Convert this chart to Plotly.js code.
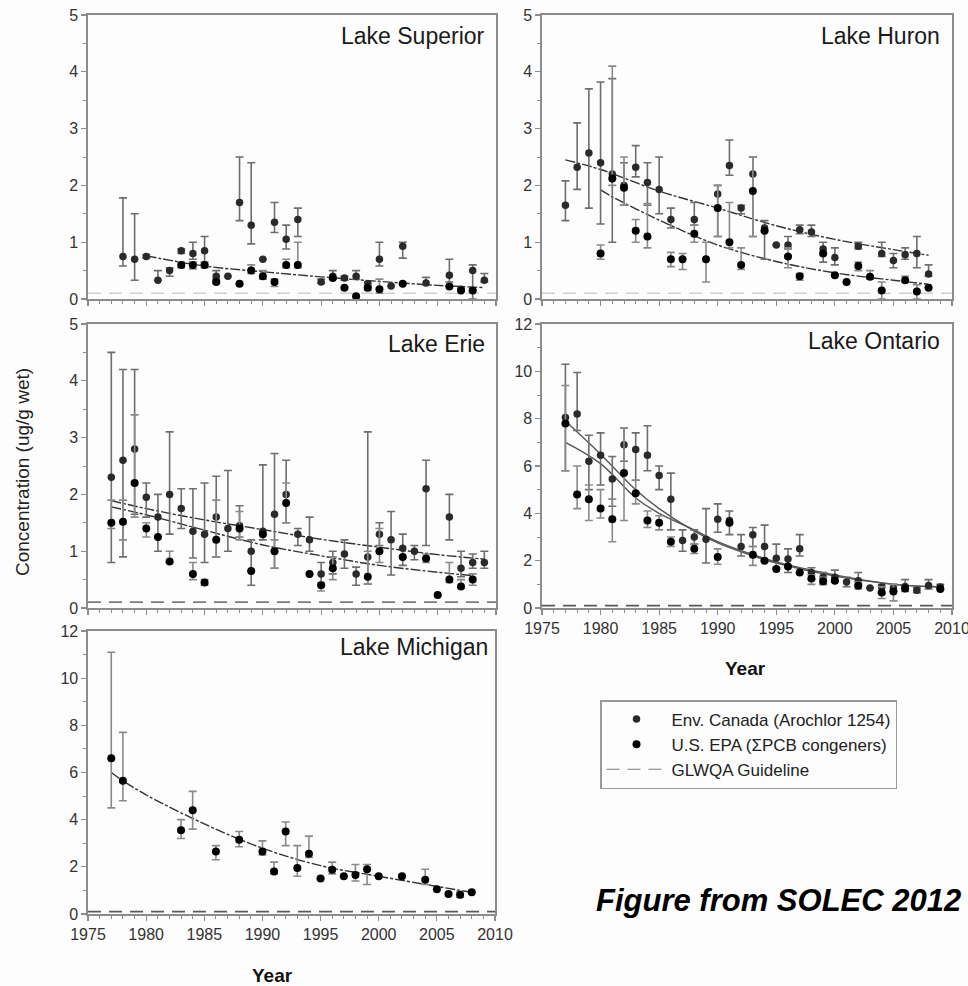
<!DOCTYPE html>
<html>
<head>
<meta charset="utf-8">
<script src="https://cdn.plot.ly/plotly-3.0.1.min.js"></script>
<style>html,body{margin:0;padding:0;background:#fff;}#chart{width:968px;height:986px;}</style>
</head>
<body>
<div id="chart"></div>
<script>
// ---------------- DATA ----------------
const GUIDELINE = 0.1;
const X_RANGE = [1975, 2010];

// Lake Superior
const supA_years = [1978,1979,1980,1981,1982,1983,1984,1985,1986,1987,1988,1989,1990,1991,1992,1993,1995,1996,1997,1998,1999,2000,2001,2002,2004,2006,2007,2008,2009];
const supA_vals  = [0.75,0.70,0.75,0.33,0.50,0.85,0.80,0.85,0.40,0.40,1.70,1.30,0.70,1.35,1.05,1.40,0.30,0.40,0.37,0.40,0.27,0.70,0.23,0.93,0.28,0.42,0.17,0.50,0.33];
const supA_hi    = [1.78,1.50,0.78,0.50,0.55,0.88,1.00,1.10,0.50,0.40,2.50,2.40,0.70,1.70,1.30,1.60,0.35,0.50,0.40,0.50,0.30,1.00,0.23,1.00,0.38,0.70,0.17,0.60,0.45];
const supA_lo    = [0.58,0.33,0.72,0.33,0.40,0.80,0.70,0.60,0.35,0.40,1.38,0.97,0.70,1.17,0.88,1.10,0.28,0.35,0.33,0.35,0.20,0.58,0.23,0.72,0.25,0.30,0.17,0.00,0.30];
const supB_years = [1983,1984,1985,1986,1988,1989,1990,1991,1992,1993,1996,1997,1998,1999,2000,2002,2006,2007,2008];
const supB_vals  = [0.60,0.60,0.60,0.30,0.27,0.50,0.40,0.30,0.60,0.60,0.37,0.20,0.05,0.20,0.17,0.27,0.22,0.15,0.15];
const supB_hi    = [0.65,0.65,0.65,0.32,0.28,0.60,0.50,0.35,0.70,1.00,0.37,0.20,0.05,0.25,0.35,0.27,0.22,0.15,0.15];
const supB_lo    = [0.55,0.53,0.55,0.28,0.25,0.45,0.35,0.22,0.55,0.55,0.37,0.20,0.05,0.15,0.10,0.27,0.22,0.15,0.15];
const supT_years = [1980,1985,1990,1995,2000,2005,2009];
const supT_vals  = [0.76,0.58,0.48,0.39,0.31,0.24,0.20];

// Lake Huron
const hurA_years = [1977,1978,1979,1980,1981,1982,1983,1984,1985,1986,1988,1990,1991,1992,1993,1994,1995,1996,1997,1998,1999,2000,2002,2004,2005,2006,2007,2008];
const hurA_vals  = [1.65,2.32,2.57,2.40,2.20,2.00,2.32,2.05,1.93,1.40,1.40,1.85,2.35,1.60,2.20,1.25,0.95,0.95,1.22,1.18,0.88,0.73,0.93,0.80,0.68,0.78,0.80,0.44];
const hurA_hi    = [2.08,3.10,3.70,3.82,3.88,2.40,2.70,2.40,2.50,1.60,1.70,2.00,2.80,1.65,2.50,1.38,0.95,1.10,1.30,1.30,1.00,0.90,1.00,1.00,0.80,0.90,1.10,0.60];
const hurA_lo    = [1.38,1.93,1.60,1.32,1.00,1.65,2.15,1.65,1.50,1.25,1.30,1.10,2.18,1.50,1.10,0.70,0.95,0.88,1.15,1.10,0.65,0.60,0.88,0.75,0.55,0.70,0.55,0.40];
const hurB_years = [1980,1981,1982,1983,1984,1986,1987,1988,1989,1990,1991,1992,1993,1994,1996,1997,1999,2000,2001,2002,2003,2004,2006,2007,2008];
const hurB_vals  = [0.80,2.12,1.96,1.20,1.10,0.70,0.70,1.15,0.70,1.60,1.00,0.60,1.90,1.20,0.75,0.40,0.80,0.42,0.30,0.58,0.39,0.15,0.33,0.13,0.20];
const hurB_hi    = [0.95,4.10,2.50,1.40,1.68,0.82,0.80,1.30,1.00,2.00,1.70,0.90,2.50,1.20,0.90,0.45,0.80,0.42,0.30,0.65,0.50,0.30,0.40,0.25,0.20];
const hurB_lo    = [0.70,2.00,1.65,1.00,0.90,0.57,0.52,1.00,0.30,1.10,0.90,0.52,1.10,1.20,0.55,0.33,0.80,0.42,0.30,0.50,0.35,0.00,0.30,0.00,0.20];
const hurTA_years = [1977,1980,1985,1990,1995,2000,2005,2008];
const hurTA_vals  = [2.45,2.28,1.90,1.60,1.29,1.05,0.87,0.77];
const hurTB_years = [1980,1981,1985,1990,1995,2000,2005,2008];
const hurTB_vals  = [1.92,1.80,1.39,0.95,0.66,0.46,0.33,0.26];

// Lake Erie
const erA_years = [1977,1978,1979,1980,1981,1982,1983,1984,1985,1986,1987,1988,1989,1990,1991,1992,1993,1994,1995,1996,1997,1998,1999,2000,2001,2002,2003,2004,2006,2007,2008,2009];
const erA_vals  = [2.30,2.60,2.80,1.95,1.60,2.00,1.75,1.35,1.30,1.60,1.40,1.45,1.00,1.35,1.65,2.00,1.30,1.20,0.60,0.80,0.95,0.60,0.90,1.30,1.20,1.05,1.00,2.10,1.60,0.70,0.80,0.80];
const erA_hi    = [4.50,4.20,4.20,2.20,2.00,3.10,2.10,2.10,2.20,2.32,2.42,1.80,1.20,2.52,2.72,2.60,1.40,1.60,0.80,1.00,1.20,0.72,3.10,1.50,1.70,1.30,1.10,2.60,2.00,1.00,0.95,1.00];
const erA_lo    = [0.80,0.90,1.65,1.60,1.00,1.30,1.40,0.88,0.80,0.90,1.00,1.25,0.40,1.20,0.70,1.50,1.10,1.00,0.40,0.60,0.70,0.40,0.42,1.10,0.58,0.75,0.85,1.10,1.20,0.55,0.70,0.70];
const erB_years = [1977,1978,1979,1980,1981,1982,1984,1985,1986,1988,1989,1990,1991,1992,1994,1995,1996,1999,2000,2002,2004,2005,2006,2007,2008];
const erB_vals  = [1.50,1.52,2.20,1.40,1.25,0.82,0.60,0.45,1.20,1.40,0.65,1.30,1.00,1.85,0.60,0.40,0.70,0.55,1.00,0.90,0.87,0.23,0.50,0.38,0.50];
const erB_hi    = [1.90,1.90,3.40,1.50,1.25,1.00,0.80,0.50,1.90,1.70,0.65,1.30,1.20,2.20,0.60,0.45,0.90,1.00,1.40,0.90,0.95,0.23,0.80,0.50,0.60];
const erB_lo    = [1.40,1.20,1.60,1.25,1.25,0.80,0.50,0.40,0.90,1.20,0.65,1.30,0.70,1.50,0.60,0.30,0.50,0.42,0.80,0.90,0.80,0.23,0.45,0.35,0.40];
const erTA_years = [1977,1980,1985,1990,1995,2000,2005,2009];
const erTA_vals  = [1.89,1.75,1.55,1.38,1.21,1.07,0.94,0.86];
const erTB_years = [1977,1980,1985,1990,1995,2000,2005,2008];
const erTB_vals  = [1.78,1.64,1.37,1.11,0.92,0.75,0.63,0.57];

// Lake Ontario
const onA_years = [1977,1978,1979,1980,1981,1982,1983,1984,1985,1986,1987,1988,1989,1990,1991,1992,1993,1994,1995,1996,1997,1998,1999,2000,2001,2002,2003,2004,2005,2006,2007,2008,2009];
const onA_vals  = [8.05,8.20,6.20,6.45,5.45,6.90,6.70,6.45,5.60,4.60,2.85,3.00,2.90,3.75,3.70,2.60,3.10,2.60,2.10,2.07,2.50,1.50,1.30,1.30,1.10,1.15,0.85,0.89,0.84,0.91,0.75,0.95,0.89];
const onA_hi    = [10.3,9.95,7.30,7.40,6.40,7.60,7.40,7.70,6.00,5.70,3.30,3.30,4.20,4.40,4.10,3.10,3.40,3.50,2.70,2.50,3.10,1.70,1.50,1.60,1.30,1.50,0.85,1.00,1.00,1.20,0.85,1.20,1.00];
const onA_lo    = [5.80,7.50,5.00,5.20,4.30,6.20,5.40,5.80,5.00,3.30,2.40,2.70,1.90,3.20,3.10,2.20,2.60,2.00,1.70,1.50,2.20,1.20,1.00,1.10,0.90,1.00,0.85,0.60,0.70,0.70,0.65,0.80,0.80];
const onB_years = [1977,1978,1979,1980,1981,1982,1983,1984,1985,1986,1988,1990,1991,1993,1994,1995,1996,1997,1998,1999,2000,2002,2004,2005,2006,2009];
const onB_vals  = [7.80,4.80,4.60,4.20,3.75,5.70,4.85,3.70,3.60,2.80,2.50,2.15,3.60,2.25,2.00,1.65,1.75,1.50,1.25,1.13,1.15,0.94,0.65,0.70,0.82,0.80];
const onB_hi    = [9.40,6.00,5.20,5.00,4.60,7.60,5.40,4.10,3.90,3.00,2.70,2.50,3.60,2.60,2.00,1.65,1.75,1.50,1.40,1.30,1.15,1.10,0.90,1.00,0.82,0.80];
const onB_lo    = [5.80,4.20,3.70,3.80,2.80,3.70,4.40,3.40,3.30,2.60,2.30,1.85,3.60,1.80,2.00,1.65,1.75,1.50,1.00,1.00,1.15,0.80,0.40,0.30,0.82,0.80];
const onTA_years = [1977,1980,1983,1985,1988,1990,1993,1995,2000,2005,2009];
const onTA_vals  = [7.90,6.50,5.00,4.20,3.25,2.75,2.20,1.90,1.35,1.00,0.88];
const onTB_years = [1977,1980,1983,1985,1988,1990,1993,1995,2000,2005,2009];
const onTB_vals  = [7.00,6.10,4.65,4.00,3.30,2.80,2.25,1.95,1.40,1.00,0.90];

// Lake Michigan
const miB_years = [1977,1978,1983,1984,1986,1988,1990,1991,1992,1993,1994,1995,1996,1997,1998,1999,2000,2002,2004,2005,2006,2007,2008];
const miB_vals  = [6.60,5.65,3.55,4.40,2.65,3.15,2.65,1.80,3.50,1.95,2.55,1.50,1.88,1.60,1.65,1.90,1.60,1.60,1.45,1.05,0.85,0.82,0.92];
const miB_hi    = [11.1,7.70,4.00,5.20,2.90,3.50,3.10,2.20,3.90,2.90,3.30,1.50,2.20,1.60,2.10,2.10,1.60,1.60,1.90,1.05,0.85,0.95,0.92];
const miB_lo    = [4.50,4.80,3.20,3.60,2.30,2.85,2.50,1.70,2.90,1.60,2.40,1.50,1.70,1.60,1.40,1.25,1.60,1.60,1.25,1.05,0.85,0.70,0.92];
const miT_years = [1977,1978,1980,1985,1990,1995,2000,2005,2008];
const miT_vals  = [6.00,5.65,5.05,3.82,2.79,2.05,1.60,1.17,0.92];

// Labels
const LAKES = ['Lake Superior','Lake Huron','Lake Erie','Lake Ontario','Lake Michigan'];
const SERIES_NAMES = ['Env. Canada (Arochlor 1254)','U.S. EPA (\u03A3PCB congeners)','GLWQA Guideline'];

// ---------------- FIGURE ----------------
const W = 968, H = 986;
const FONT = 'Liberation Sans, Arial, sans-serif';
const px = v => v / W;
const py = v => 1 - v / H;

const traces = [];
function pts(years, vals, hi, lo, ax, name, color, size, errColor, showLeg) {
  traces.push({
    type: 'scatter', mode: 'markers', x: years, y: vals,
    xaxis: ax[0], yaxis: ax[1], name: name, showlegend: !!showLeg,
    legendrank: name === SERIES_NAMES[0] ? 1 : 2,
    marker: {color: color, size: size, line: {width: 0}},
    error_y: {type: 'data', symmetric: false,
      array: hi.map((h, i) => h - vals[i]),
      arrayminus: lo.map((l, i) => vals[i] - l),
      color: errColor, thickness: 1.6, width: 4}
  });
}
function trend(years, vals, ax, color, dash) {
  traces.push({type: 'scatter', mode: 'lines', x: years, y: vals, xaxis: ax[0], yaxis: ax[1],
    showlegend: false, hoverinfo: 'skip',
    line: {color: color, width: 1.4, dash: dash, shape: 'spline', smoothing: 1}});
}
function guide(ax, color, showLeg) {
  traces.push({type: 'scatter', mode: 'lines', x: X_RANGE, y: [GUIDELINE, GUIDELINE],
    xaxis: ax[0], yaxis: ax[1], name: SERIES_NAMES[2], showlegend: !!showLeg, legendrank: 3,
    line: {color: color, width: 1.6, dash: '13px,8px'}});
}

const EC_COL = '#2a2a2a', EPA_COL = '#000000';
const ERR_A = '#6e6e6e', ERR_B = '#8a8a8a';
const TDASH = '10px,2px,3px,2px';

const A1 = ['x','y'], A2 = ['x2','y2'], A3 = ['x3','y3'], A4 = ['x4','y4'], A5 = ['x5','y5'];

// guidelines first (drawn underneath)
guide(A1, '#d0d0d0'); guide(A2, '#d0d0d0'); guide(A3, '#5a5a5a'); guide(A4, '#5a5a5a'); guide(A5, '#5a5a5a');
// legend-only entry for the guideline (lighter, as in the reference legend)
traces.push({type: 'scatter', mode: 'lines', x: X_RANGE, y: [GUIDELINE, GUIDELINE], xaxis: 'x3', yaxis: 'y3',
  name: SERIES_NAMES[2], showlegend: true, legendrank: 3, visible: true, opacity: 1,
  line: {color: '#7a7a7a', width: 1.2, dash: '13px,8px'}});

trend(supT_years, supT_vals, A1, '#333', TDASH);
pts(supA_years, supA_vals, supA_hi, supA_lo, A1, SERIES_NAMES[0], EC_COL, 7.5, ERR_A, true);
pts(supB_years, supB_vals, supB_hi, supB_lo, A1, SERIES_NAMES[1], EPA_COL, 8, ERR_B, true);

trend(hurTA_years, hurTA_vals, A2, '#333', TDASH);
trend(hurTB_years, hurTB_vals, A2, '#333', TDASH);
pts(hurA_years, hurA_vals, hurA_hi, hurA_lo, A2, SERIES_NAMES[0], EC_COL, 7.5, ERR_A);
pts(hurB_years, hurB_vals, hurB_hi, hurB_lo, A2, SERIES_NAMES[1], EPA_COL, 8, ERR_B);

trend(erTA_years, erTA_vals, A3, '#333', TDASH);
trend(erTB_years, erTB_vals, A3, '#333', TDASH);
pts(erA_years, erA_vals, erA_hi, erA_lo, A3, SERIES_NAMES[0], EC_COL, 7.5, ERR_A);
pts(erB_years, erB_vals, erB_hi, erB_lo, A3, SERIES_NAMES[1], EPA_COL, 8, ERR_B);

trend(onTA_years, onTA_vals, A4, '#555', 'solid');
trend(onTB_years, onTB_vals, A4, '#555', 'solid');
pts(onA_years, onA_vals, onA_hi, onA_lo, A4, SERIES_NAMES[0], EC_COL, 7.5, ERR_A);
pts(onB_years, onB_vals, onB_hi, onB_lo, A4, SERIES_NAMES[1], EPA_COL, 8, ERR_B);

trend(miT_years, miT_vals, A5, '#333', TDASH);
pts(miB_years, miB_vals, miB_hi, miB_lo, A5, SERIES_NAMES[1], EPA_COL, 8, ERR_B);

const AXC = '#8c8c8c';
function xax(x0, x1, anchor, labels) {
  return {domain: [px(x0), px(x1)], anchor: anchor, range: X_RANGE, tick0: 1975, dtick: 5,
    ticks: 'outside', ticklen: 5, tickwidth: 1.2, tickcolor: AXC,
    minor: {dtick: 1, ticks: 'outside', ticklen: 3, tickcolor: AXC, tickwidth: 1},
    showticklabels: labels, ticklabeloverflow: 'allow',
    tickfont: {family: FONT, size: 16, color: '#333'},
    showline: true, linecolor: AXC, linewidth: 1.6, mirror: true,
    showgrid: false, zeroline: false, fixedrange: true};
}
function yax(y0, y1, anchor, max, dt) {
  return {domain: [py(y1), py(y0)], anchor: anchor, range: [0, max], tick0: 0, dtick: dt,
    ticks: 'outside', ticklen: 5, tickwidth: 1.2, tickcolor: AXC,
    minor: {dtick: dt / 2, ticks: 'outside', ticklen: 3, tickcolor: AXC, tickwidth: 1},
    tickfont: {family: FONT, size: 16, color: '#333'},
    showline: true, linecolor: AXC, linewidth: 1.6, mirror: true,
    showgrid: false, zeroline: false, fixedrange: true};
}

function lakeLabel(text, xr, yc) {
  return {text: text, xref: 'paper', yref: 'paper', x: px(xr), y: py(yc), xanchor: 'right', yanchor: 'middle',
    showarrow: false, font: {family: FONT, size: 23, color: '#1a1a1a'}};
}

const layout = {
  width: W, height: H, margin: {l: 0, r: 0, t: 0, b: 0},
  paper_bgcolor: '#fdfdfd', plot_bgcolor: '#fdfdfd',
  font: {family: FONT, color: '#222'},
  xaxis:  xax(88, 496, 'y', false),
  yaxis:  yax(15, 299, 'x', 5, 1),
  xaxis2: xax(542, 952, 'y2', false),
  yaxis2: yax(15, 299, 'x2', 5, 1),
  xaxis3: xax(88, 496, 'y3', false),
  yaxis3: yax(324, 608, 'x3', 5, 1),
  xaxis4: xax(542, 952, 'y4', true),
  yaxis4: yax(324, 608, 'x4', 12, 2),
  xaxis5: xax(88, 495, 'y5', true),
  yaxis5: yax(631, 914, 'x5', 12, 2),
  showlegend: true,
  legend: {x: px(600), y: py(700), xanchor: 'left', yanchor: 'top',
    bgcolor: '#fdfdfd', bordercolor: '#9a9a9a', borderwidth: 1.5,
    font: {family: FONT, size: 17, color: '#222'}, itemwidth: 60, tracegroupgap: 0,
    traceorder: 'normal'},
  annotations: [
    lakeLabel(LAKES[0], 487, 36),
    lakeLabel(LAKES[1], 942, 36),
    lakeLabel(LAKES[2], 487, 344),
    lakeLabel(LAKES[3], 942, 341),
    lakeLabel(LAKES[4], 490, 647),
    {text: 'Concentration (ug/g wet)', xref: 'paper', yref: 'paper', x: px(23), y: py(472),
      xanchor: 'center', yanchor: 'middle', textangle: -90, showarrow: false,
      font: {family: FONT, size: 19, color: '#222'}},
    {text: '<b>Year</b>', xref: 'paper', yref: 'paper', x: px(745), y: py(668),
      xanchor: 'center', yanchor: 'middle', showarrow: false, font: {family: FONT, size: 19, color: '#111'}},
    {text: '<b>Year</b>', xref: 'paper', yref: 'paper', x: px(272), y: py(975),
      xanchor: 'center', yanchor: 'middle', showarrow: false, font: {family: FONT, size: 19, color: '#111'}},
    {text: '<b><i>Figure from SOLEC 2012</i></b>', xref: 'paper', yref: 'paper', x: px(963), y: py(900),
      xanchor: 'right', yanchor: 'middle', showarrow: false, font: {family: FONT, size: 31, color: '#000'}}
  ]
};

Plotly.newPlot('chart', traces, layout, {displayModeBar: false, staticPlot: true});
</script>
</body>
</html>
